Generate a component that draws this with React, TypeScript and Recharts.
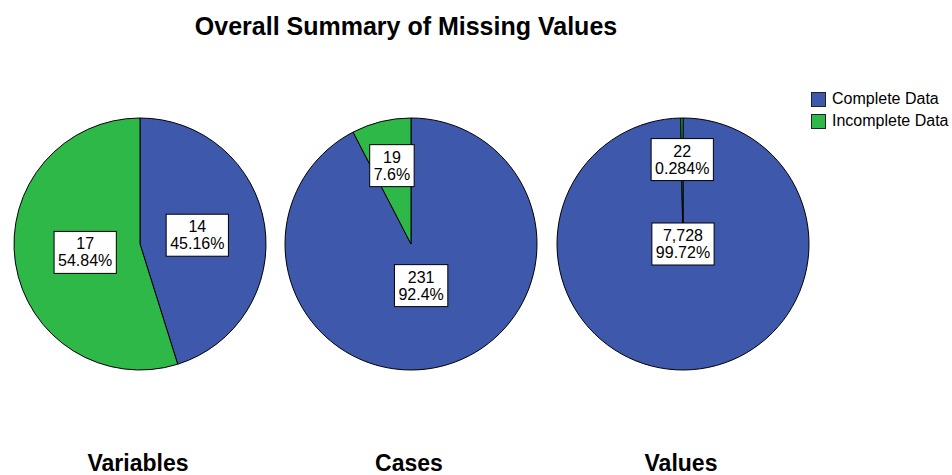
import React from 'react';
import { PieChart, Pie, Cell, Legend } from 'recharts';

const categories = ['Complete Data', 'Incomplete Data'];
const colors = ['#3E58AC', '#2EB848'];

const variablesCounts = [14, 17];
const casesCounts = [231, 19];
const valuesCounts = [7728, 22];

const variablesPct = ['45.16%', '54.84%'];
const casesPct = ['92.4%', '7.6%'];
const valuesPct = ['99.72%', '0.284%'];

const panelTitles = ['Variables', 'Cases', 'Values'];

const FONT = '"Liberation Sans", Arial, sans-serif';
const RAD = Math.PI / 180;

// rough Arial widths (em) for the label boxes
const charW = (c: string) => {
  if (c === '.' || c === ',') return 0.278;
  if (c === '%') return 0.889;
  return 0.556;
};
const textW = (s: string, size: number) => s.split('').reduce((a, c) => a + charW(c), 0) * size;

const toRows = (counts: number[]) => categories.map((name, i) => ({ name, value: counts[i] }));

const makeLabel = (pcts: string[], radii: number[]) => (props: any) => {
  const { cx, cy, midAngle, outerRadius, index, value } = props;
  const r = outerRadius * radii[index];
  const x = cx + r * Math.cos(-midAngle * RAD);
  const y = cy + r * Math.sin(-midAngle * RAD);
  const top = Number(value).toLocaleString('en-US');
  const bot = pcts[index];
  const w = Math.max(textW(top, 16), textW(bot, 16)) + 8;
  const h = 42;
  return (
    <g key={`lbl-${index}`}>
      <rect x={x - w / 2} y={y - h / 2} width={w} height={h} fill="#fff" stroke="#000" strokeWidth={1} />
      <text x={x} y={y - 3} textAnchor="middle" fontFamily={FONT} fontSize={16} fill="#000">{top}</text>
      <text x={x} y={y + 14} textAnchor="middle" fontFamily={FONT} fontSize={16} fill="#000">{bot}</text>
    </g>
  );
};

const pies = [
  { key: 'vars', cx: 140, data: toRows(variablesCounts), pcts: variablesPct, radii: [0.46, 0.44] },
  { key: 'cases', cx: 411, data: toRows(casesCounts), pcts: casesPct, radii: [0.34, 0.64] },
  { key: 'values', cx: 683, data: toRows(valuesCounts), pcts: valuesPct, radii: [0, 0.67] },
];

const LegendBox = () => (
  <div style={{ fontFamily: FONT, fontSize: 16, color: '#000', lineHeight: '22px' }}>
    {categories.map((c, i) => (
      <div key={c} style={{ display: 'flex', alignItems: 'center', whiteSpace: 'nowrap' }}>
        <span style={{ display: 'inline-block', width: 13, height: 13, background: colors[i], border: '1px solid #222', marginRight: 6 }} />
        {c}
      </div>
    ))}
  </div>
);

export default function App() {
  return (
    <div style={{ position: 'absolute', left: 0, top: 0, width: 952, height: 475, background: '#fff' }}>
      <PieChart width={952} height={475} margin={{ top: 0, right: 0, bottom: 0, left: 0 }}>
        <text x={406} y={35} textAnchor="middle" fontFamily={FONT} fontWeight="bold" fontSize={25} fill="#000">
          Overall Summary of Missing Values
        </text>
        {pies.map((p, i) => (
          <text key={`t-${p.key}`} x={p.cx - 2} y={471} textAnchor="middle" fontFamily={FONT} fontWeight="bold" fontSize={23} fill="#000">
            {panelTitles[i]}
          </text>
        ))}
        {pies.map((p) => (
          <Pie
            key={p.key}
            data={p.data}
            dataKey="value"
            nameKey="name"
            cx={p.cx}
            cy={244}
            outerRadius={126}
            startAngle={90}
            endAngle={-270}
            stroke="#000"
            strokeWidth={1}
            labelLine={false}
            label={makeLabel(p.pcts, p.radii)}
            isAnimationActive={false}
          >
            {p.data.map((d, j) => (
              <Cell key={d.name} fill={colors[j]} />
            ))}
          </Pie>
        ))}
        <Legend
          content={<LegendBox />}
          wrapperStyle={{ position: 'absolute', left: 811, top: 88, width: 141 }}
        />
      </PieChart>
    </div>
  );
}
